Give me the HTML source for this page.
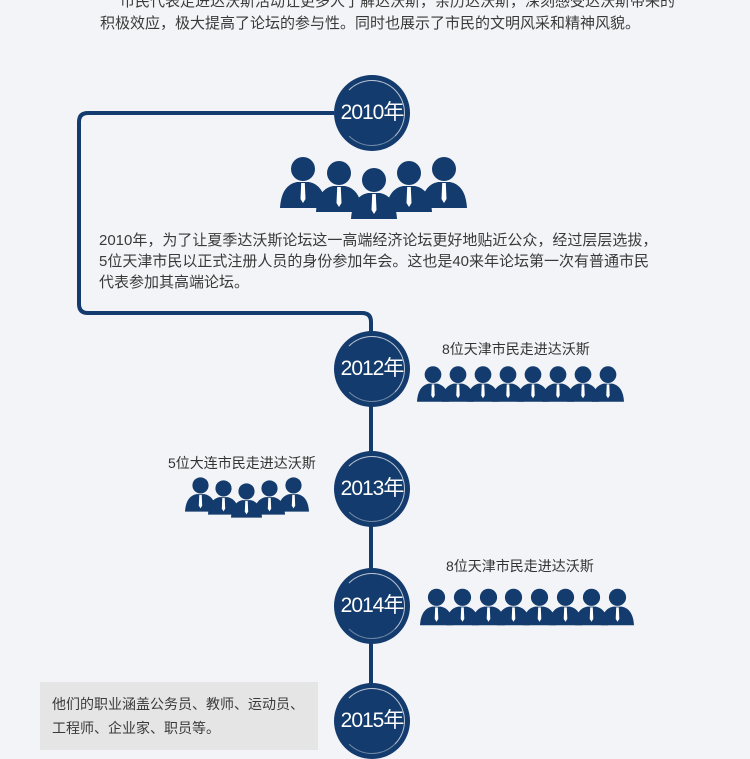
<!DOCTYPE html>
<html><head><meta charset="utf-8"><style>
body{margin:0;width:750px;height:750px;overflow:hidden;background:#f3f4f7;font-family:"Liberation Sans","Noto Sans CJK SC",sans-serif;position:relative;color:#333}
.t{position:absolute;font-size:15px;white-space:nowrap;color:#3a3a3a}
.yr{position:absolute;width:76px;height:76px;border-radius:50%;background:#133b6d;color:#fff;font-size:21px;line-height:76px;text-align:center;letter-spacing:-1px}
.yr:after{content:"";position:absolute;left:5px;top:5px;width:64px;height:64px;border-radius:50%;border:1px solid rgba(255,255,255,.7);border-left-color:transparent;border-bottom-color:rgba(255,255,255,.4)}
.lbl{position:absolute;font-size:14px;color:#333;white-space:nowrap}
</style></head><body>
<svg width="750" height="750" style="position:absolute;left:0;top:0">
<defs>
<symbol id="p" viewBox="-23 -27 46 51">
<circle cx="0" cy="-15" r="12" fill="#133b6d"/>
<path d="M-23 24 C-22 8 -16 0 -6 -2 L6 -2 C16 0 22 8 23 24 Z" fill="#133b6d"/>
<path d="M-1.8 -1 L1.8 -1 L2.5 15 L0 19 L-2.5 15 Z" fill="#fff"/>
</symbol>
</defs>
<path d="M334 113 H88 Q79 113 79 122 V304 Q79 313 88 313 H362 Q371 313 371 322 V740" fill="none" stroke="#133b6d" stroke-width="4"/>
<use href="#p" x="280" y="157" width="46" height="51"/>
<use href="#p" x="421" y="157" width="46" height="51"/>
<use href="#p" x="316" y="161" width="46" height="51"/>
<use href="#p" x="386" y="161" width="46" height="51"/>
<use href="#p" x="351" y="168" width="46" height="51"/>
<g>
<use href="#p" x="417" y="366" width="32" height="36"/>
<use href="#p" x="442" y="366" width="32" height="36"/>
<use href="#p" x="467" y="366" width="32" height="36"/>
<use href="#p" x="492" y="366" width="32" height="36"/>
<use href="#p" x="517" y="366" width="32" height="36"/>
<use href="#p" x="542" y="366" width="32" height="36"/>
<use href="#p" x="567" y="366" width="32" height="36"/>
<use href="#p" x="592" y="366" width="32" height="36"/>
</g>
<use href="#p" x="185" y="477" width="31" height="35"/>
<use href="#p" x="278" y="477" width="31" height="35"/>
<use href="#p" x="208" y="480" width="31" height="35"/>
<use href="#p" x="254" y="480" width="31" height="35"/>
<use href="#p" x="231" y="483" width="31" height="35"/>
<g>
<use href="#p" x="420" y="588" width="33" height="38"/>
<use href="#p" x="446" y="588" width="33" height="38"/>
<use href="#p" x="472" y="588" width="33" height="38"/>
<use href="#p" x="497" y="588" width="33" height="38"/>
<use href="#p" x="523" y="588" width="33" height="38"/>
<use href="#p" x="549" y="588" width="33" height="38"/>
<use href="#p" x="575" y="588" width="33" height="38"/>
<use href="#p" x="601" y="588" width="33" height="38"/>
</g>
</svg>
<div class="t" style="left:120px;top:-10px">市民代表走进达沃斯活动让更多人了解达沃斯，亲历达沃斯，深刻感受达沃斯带来的</div>
<div class="t" style="left:100px;top:12px">积极效应，极大提高了论坛的参与性。同时也展示了市民的文明风采和精神风貌。</div>
<div class="t" style="left:99px;top:230px;line-height:21px">2010年，为了让夏季达沃斯论坛这一高端经济论坛更好地贴近公众，经过层层选拔，<br>5位天津市民以正式注册人员的身份参加年会。这也是40来年论坛第一次有普通市民<br>代表参加其高端论坛。</div>
<div class="yr" style="left:334px;top:75px">2010年</div>
<div class="yr" style="left:334px;top:331px">2012年</div>
<div class="yr" style="left:334px;top:451px">2013年</div>
<div class="yr" style="left:334px;top:568px">2014年</div>
<div class="yr" style="left:334px;top:683px">2015年</div>
<div class="lbl" style="left:442px;top:339px">8位天津市民走进达沃斯</div>
<div class="lbl" style="left:168px;top:453px">5位大连市民走进达沃斯</div>
<div class="lbl" style="left:446px;top:556px">8位天津市民走进达沃斯</div>
<div style="position:absolute;left:40px;top:682px;width:278px;height:68px;background:#e5e5e6"></div>
<div class="t" style="left:52px;top:692px;font-size:14px;line-height:24px">他们的职业涵盖公务员、教师、运动员、<br>工程师、企业家、职员等。</div>
</body></html>
